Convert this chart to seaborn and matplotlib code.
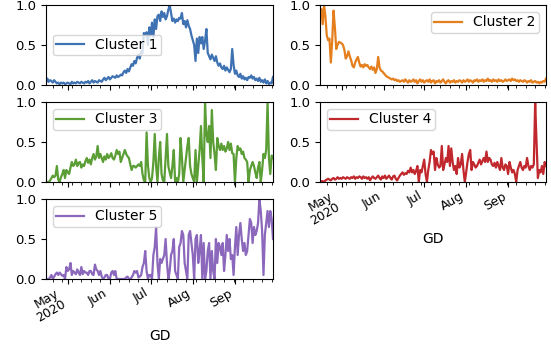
import numpy as np
import pandas as pd
import matplotlib
matplotlib.use("Agg")
import matplotlib.pyplot as plt
import matplotlib.dates as mdates
import seaborn as sns

# daily index, 2020-04-15 .. 2020-09-29
start_date = "2020-04-15"
n_days = 168

cluster_1 = [
    0.03, 0.08, 0.04, 0.06, 0.05, 0.03, 0.06, 0.04, 0.02, 0.03,
    0.01, 0.03, 0.02, 0.03, 0.01, 0.02, 0.03, 0.02, 0.01, 0.04,
    0.02, 0.03, 0.02, 0.04, 0.03, 0.02, 0.04, 0.03, 0.02, 0.04,
    0.03, 0.05, 0.02, 0.04, 0.06, 0.03, 0.05, 0.04, 0.03, 0.06,
    0.05, 0.04, 0.07, 0.09, 0.06, 0.08, 0.10, 0.07, 0.09, 0.11,
    0.10, 0.09, 0.12, 0.10, 0.11, 0.13, 0.12, 0.16, 0.18, 0.15,
    0.20, 0.17, 0.22, 0.26, 0.24, 0.30, 0.27, 0.34, 0.38, 0.33,
    0.42, 0.40, 0.65, 0.63, 0.66, 0.50, 0.72, 0.62, 0.78, 0.60,
    0.82, 0.70, 0.86, 0.88, 0.80, 0.92, 0.85, 0.90, 0.82, 0.86,
    0.94, 1.00, 0.90, 0.80, 0.83, 0.78, 0.82, 0.80, 0.84, 0.83,
    0.90, 0.76, 0.80, 0.72, 0.81, 0.74, 0.70, 0.62, 0.56, 0.50,
    0.30, 0.58, 0.40, 0.60, 0.52, 0.60, 0.45, 0.55, 0.70, 0.40,
    0.36, 0.32, 0.38, 0.34, 0.30, 0.36, 0.28, 0.24, 0.27, 0.22,
    0.20, 0.24, 0.18, 0.22, 0.19, 0.16, 0.20, 0.45, 0.25, 0.14,
    0.18, 0.12, 0.10, 0.14, 0.08, 0.11, 0.07, 0.09, 0.06, 0.10,
    0.09, 0.12, 0.08, 0.10, 0.06, 0.08, 0.05, 0.09, 0.04, 0.06,
    0.03, 0.07, 0.02, 0.05, 0.01, 0.03, 0.02, 0.10,
]

cluster_2 = [
    0.92, 0.95, 0.76, 1.00, 0.86, 0.62, 0.56, 0.58, 0.28, 0.55,
    0.93, 0.72, 0.45, 0.50, 0.54, 0.53, 0.52, 0.50, 0.44, 0.33,
    0.36, 0.42, 0.36, 0.31, 0.24, 0.22, 0.28, 0.32, 0.35, 0.28,
    0.23, 0.25, 0.22, 0.26, 0.24, 0.25, 0.22, 0.20, 0.23, 0.19,
    0.22, 0.15, 0.20, 0.35, 0.22, 0.18, 0.17, 0.15, 0.13, 0.11,
    0.10, 0.09, 0.08, 0.07, 0.08, 0.06, 0.07, 0.05, 0.06, 0.04,
    0.05, 0.06, 0.04, 0.07, 0.05, 0.03, 0.06, 0.04, 0.05, 0.07,
    0.04, 0.06, 0.02, 0.05, 0.07, 0.04, 0.06, 0.03, 0.05, 0.06,
    0.04, 0.07, 0.03, 0.05, 0.06, 0.02, 0.05, 0.04, 0.06, 0.03,
    0.05, 0.07, 0.04, 0.02, 0.05, 0.06, 0.03, 0.05, 0.04, 0.06,
    0.03, 0.05, 0.04, 0.06, 0.05, 0.03, 0.06, 0.04, 0.05, 0.07,
    0.04, 0.06, 0.05, 0.03, 0.06, 0.05, 0.07, 0.04, 0.06, 0.05,
    0.07, 0.04, 0.06, 0.05, 0.08, 0.05, 0.06, 0.04, 0.07, 0.05,
    0.06, 0.04, 0.07, 0.05, 0.06, 0.04, 0.05, 0.07, 0.05, 0.06,
    0.07, 0.05, 0.08, 0.06, 0.07, 0.05, 0.06, 0.04, 0.06, 0.05,
    0.04, 0.06, 0.05, 0.03, 0.05, 0.04, 0.06, 0.03, 0.04, 0.05,
    0.03, 0.04, 0.02, 0.04, 0.03, 0.05, 0.04, 0.08,
]

cluster_3 = [
    0.00, 0.00, 0.00, 0.02, 0.05, 0.08, 0.06, 0.08, 0.20, 0.03,
    0.00, 0.06, 0.10, 0.15, 0.05, 0.15, 0.12, 0.10, 0.18, 0.25,
    0.20, 0.22, 0.28, 0.20, 0.24, 0.25, 0.18, 0.22, 0.20, 0.26,
    0.30, 0.24, 0.28, 0.22, 0.30, 0.35, 0.28, 0.32, 0.45, 0.30,
    0.35, 0.30, 0.25, 0.32, 0.28, 0.35, 0.30, 0.32, 0.36, 0.30,
    0.28, 0.33, 0.40, 0.35, 0.38, 0.25, 0.30, 0.35, 0.40, 0.35,
    0.32, 0.30, 0.22, 0.15, 0.20, 0.20, 0.18, 0.20, 0.22, 0.20,
    0.25, 0.10, 0.02, 0.00, 0.62, 0.20, 0.05, 0.00, 0.05, 0.25,
    0.60, 0.20, 0.00, 0.30, 0.50, 0.10, 0.02, 0.00, 0.30, 0.60,
    0.20, 0.12, 0.05, 0.20, 0.40, 0.00, 0.05, 0.00, 0.10, 0.55,
    0.30, 0.00, 0.15, 0.30, 0.45, 0.55, 0.20, 0.10, 0.05, 0.00,
    0.40, 0.00, 0.20, 0.40, 0.70, 0.30, 0.00, 1.00, 0.60, 0.50,
    0.70, 0.30, 0.90, 0.50, 0.35, 0.15, 0.55, 0.45, 0.40, 0.48,
    0.40, 0.45, 0.38, 0.42, 0.50, 0.40, 0.48, 0.36, 0.35, 0.00,
    0.30, 0.45, 0.40, 0.42, 0.35, 0.38, 0.30, 0.28, 0.25, 0.00,
    0.15, 0.20, 0.25, 0.20, 0.12, 0.05, 0.18, 0.25, 0.00, 0.15,
    0.35, 0.30, 0.40, 1.00, 0.30, 0.10, 0.33, 0.30,
]

cluster_4 = [
    0.00, 0.01, 0.01, 0.00, 0.02, 0.03, 0.04, 0.03, 0.02, 0.04,
    0.05, 0.03, 0.04, 0.06, 0.04, 0.05, 0.04, 0.06, 0.05, 0.04,
    0.06, 0.05, 0.04, 0.06, 0.05, 0.07, 0.04, 0.06, 0.05, 0.07,
    0.06, 0.04, 0.07, 0.05, 0.06, 0.04, 0.06, 0.02, 0.05, 0.07,
    0.05, 0.04, 0.06, 0.08, 0.05, 0.03, 0.07, 0.05, 0.08, 0.04,
    0.06, 0.08, 0.05, 0.03, 0.07, 0.08, 0.04, 0.02, 0.05, 0.08,
    0.10, 0.12, 0.09, 0.11, 0.10, 0.14, 0.12, 0.18, 0.12, 0.15,
    0.10, 0.14, 0.20, 0.00, 0.15, 0.12, 0.20, 0.28, 0.10, 0.00,
    0.15, 0.25, 0.40, 0.35, 0.38, 0.15, 0.30, 0.22, 0.18, 0.20,
    0.45, 0.15, 0.22, 0.30, 0.25, 0.45, 0.20, 0.42, 0.25, 0.15,
    0.20, 0.10, 0.30, 0.18, 0.22, 0.35, 0.15, 0.00, 0.12, 0.25,
    0.35, 0.40, 0.15, 0.25, 0.22, 0.18, 0.20, 0.24, 0.28, 0.22,
    0.26, 0.30, 0.25, 0.38, 0.25, 0.30, 0.28, 0.22, 0.20, 0.24,
    0.18, 0.25, 0.20, 0.15, 0.30, 0.18, 0.15, 0.22, 0.20, 0.10,
    0.25, 0.18, 0.12, 0.15, 0.10, 0.00, 0.15, 0.20, 0.25, 0.18,
    0.15, 0.20, 0.18, 0.30, 0.20, 0.15, 0.20, 0.18, 0.22, 1.00,
    0.50, 0.05, 0.15, 0.12, 0.20, 0.10, 0.25, 0.20,
]

cluster_5 = [
    0.00, 0.00, 0.00, 0.02, 0.05, 0.00, 0.03, 0.06, 0.08, 0.05,
    0.08, 0.06, 0.04, 0.05, 0.00, 0.15, 0.10, 0.12, 0.20, 0.05,
    0.10, 0.08, 0.06, 0.12, 0.08, 0.05, 0.15, 0.06, 0.10, 0.08,
    0.08, 0.05, 0.10, 0.10, 0.06, 0.05, 0.18, 0.12, 0.10, 0.05,
    0.10, 0.03, 0.00, 0.02, 0.05, 0.05, 0.00, 0.00, 0.08, 0.10,
    0.05, 0.10, 0.00, 0.00, 0.00, 0.00, 0.00, 0.00, 0.00, 0.02,
    0.03, 0.00, 0.00, 0.02, 0.05, 0.10, 0.08, 0.10, 0.02, 0.03,
    0.05, 0.15, 0.20, 0.35, 0.10, 0.00, 0.05, 0.05, 0.00, 0.30,
    0.40, 0.65, 0.20, 0.00, 0.25, 0.20, 0.25, 0.30, 0.50, 0.20,
    0.00, 0.10, 0.30, 0.35, 0.50, 0.10, 0.05, 0.00, 0.40, 0.45,
    0.60, 0.55, 0.20, 0.10, 0.00, 0.55, 0.60, 0.45, 0.30, 0.00,
    0.50, 0.55, 0.20, 0.35, 0.55, 0.00, 0.45, 0.00, 0.10, 0.35,
    0.45, 0.00, 0.35, 0.10, 0.00, 0.50, 0.20, 0.45, 0.40, 0.30,
    0.45, 0.10, 0.30, 0.55, 0.35, 0.50, 0.25, 0.30, 0.05, 0.40,
    0.65, 0.30, 0.55, 0.70, 0.50, 0.35, 0.45, 0.30, 0.35, 0.55,
    0.75, 0.70, 0.45, 0.65, 0.55, 0.60, 0.70, 1.00, 0.85, 0.60,
    0.05, 0.55, 0.70, 0.85, 0.65, 0.85, 0.75, 0.50,
]

cluster_names = ["Cluster 1", "Cluster 2", "Cluster 3", "Cluster 4", "Cluster 5"]
legend_locs = ["center left", "upper right", "upper left", "upper left", "upper left"]
colors = ["#3f72b2", "#e57f1e", "#5a9e35", "#c0282d", "#8c68bd"]

dates = pd.date_range(start_date, periods=n_days, freq="D")
df = pd.DataFrame({
    "GD": dates,
    "Cluster 1": cluster_1,
    "Cluster 2": cluster_2,
    "Cluster 3": cluster_3,
    "Cluster 4": cluster_4,
    "Cluster 5": cluster_5,
})

plt.rcParams["font.size"] = 10
plt.rcParams["xtick.labelsize"] = 9
plt.rcParams["ytick.labelsize"] = 9.5
plt.rcParams["legend.fontsize"] = 10

fig = plt.figure(figsize=(5.51, 3.45), dpi=100)
W, H = 551.0, 345.0
# axes boxes in pixels: (left, top, right, bottom)
boxes = [
    (46, 5, 273, 85),
    (320, 5, 546, 85),
    (46, 102, 273, 182),
    (320, 102, 546, 182),
    (46, 199, 273, 279),
]
ax_list = []
for (l, t, r, b) in boxes:
    ax = fig.add_axes([l / W, 1 - b / H, (r - l) / W, (b - t) / H])
    ax_list.append(ax)

labelled = [3, 4]

for i, (ax, name, loc, c) in enumerate(zip(ax_list, cluster_names, legend_locs, colors)):
    sns.lineplot(data=df, x="GD", y=name, ax=ax, color=c, linewidth=1.6, label=name)
    ax.set_ylim(0, 1)
    ax.set_yticks([0.0, 0.5, 1.0])
    ax.set_ylabel("")
    ax.set_xlim(dates[0], dates[-1])
    ax.xaxis.set_major_locator(mdates.MonthLocator())
    ax.xaxis.set_minor_locator(mdates.WeekdayLocator(byweekday=mdates.MO))
    ax.legend(loc=loc, handlelength=2.0, borderpad=0.25, labelspacing=0.3)


def month_fmt(x, pos):
    d = mdates.num2date(x)
    if d.month == 5:
        return d.strftime("%b\n%Y")
    return d.strftime("%b")


for i, ax in enumerate(ax_list):
    ax.xaxis.set_major_formatter(matplotlib.ticker.FuncFormatter(month_fmt))
    if i in labelled:
        ax.tick_params(axis="x", which="major", labelbottom=True, pad=2)
        for lbl in ax.get_xticklabels():
            lbl.set_rotation(30)
            lbl.set_ha("right")
            lbl.set_linespacing(1.0)
        ax.set_xlabel("GD", labelpad=3)
    else:
        ax.tick_params(axis="x", labelbottom=False)
        ax.set_xlabel("")

fig.savefig("out.png", dpi=100)
